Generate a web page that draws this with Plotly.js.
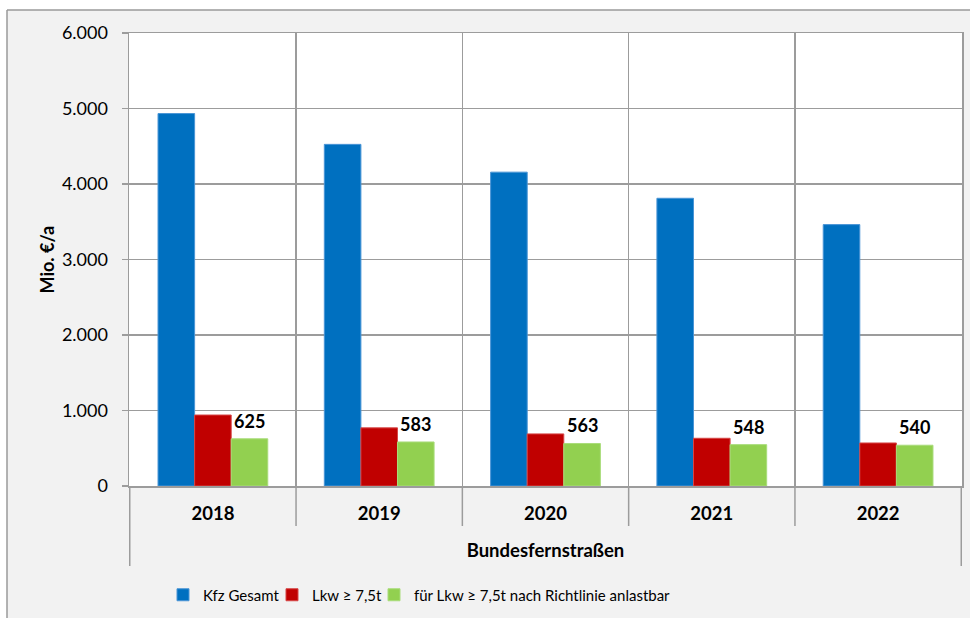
<!DOCTYPE html>
<html>
<head>
<meta charset="utf-8">
<script src="https://cdn.plot.ly/plotly-3.0.1.min.js"></script>
<style>html,body{margin:0;padding:0;background:#fff;}#chart{width:970px;height:618px;}</style>
</head>
<body>
<div id="chart"></div>
<script>
const categories = ['2018', '2019', '2020', '2021', '2022'];
const kfzGesamt = [4933, 4525, 4157, 3811, 3462];
const lkw75 = [940, 770, 690, 632, 570];
const anlastbar = [625, 583, 563, 548, 540];
const seriesNames = ['Kfz Gesamt', 'Lkw ≥ 7,5t', 'für Lkw ≥ 7,5t nach Richtlinie anlastbar'];
const yTicks = [0, 1000, 2000, 3000, 4000, 5000, 6000];
const yAxisTitle = 'Mio. €/a';
const xGroupTitle = 'Bundesfernstraßen';

const FONT = 'Lato, "Open Sans", sans-serif';
const W = 970, H = 618;
const M = {l: 129, r: 8, t: 33, b: 132, autoexpand: false};
const plotH = H - M.t - M.b;
const plotW = W - M.l - M.r;
const gridCol = '#9c9c9c';

const colors = ['#0070C0', '#C00000', '#92D050'];
const edge = ['#4a95d6', '#d64545', '#a9dc7a'];
const seriesVals = [kfzGesamt, lkw75, anlastbar];
const legendIds = ['legend', 'legend2', 'legend3'];
const legendSquareLeftPx = [178, 287, 389];

const traces = seriesVals.map((vals, i) => ({
  type: 'bar',
  name: seriesNames[i],
  x: categories,
  y: vals,
  legend: legendIds[i],
  marker: {color: colors[i], line: {color: edge[i], width: 1}},
  hoverinfo: 'skip'
}));

const bargap = 0.34;
const barW = (1 - bargap) / 3;

const annotations = anlastbar.map((v, i) => ({
  x: i + barW, xref: 'x', y: v, yref: 'y',
  text: String(v), showarrow: false,
  yanchor: 'bottom', yshift: 5,
  font: {family: FONT, size: 18, color: '#000', weight: 'bold'}
}));
annotations.push({
  xref: 'paper', yref: 'paper', x: (46 - M.l) / plotW, y: 0.5,
  text: yAxisTitle, textangle: -90, showarrow: false,
  xanchor: 'center', yanchor: 'middle',
  font: {family: FONT, size: 18, color: '#000', weight: 'bold'}
});

const px2y = p => -p / plotH;
const shapes = [];
// outside white strips and chart border
shapes.push({type: 'rect', xref: 'paper', yref: 'paper', x0: -M.l / plotW, x1: (-M.l + 7) / plotW, y0: -M.b / plotH - 0.1, y1: 1 + M.t / plotH + 0.1, fillcolor: '#fff', line: {width: 0}, layer: 'below'});
shapes.push({type: 'rect', xref: 'paper', yref: 'paper', x0: -M.l / plotW, x1: 1 + M.r / plotW + 0.1, y0: 1 + (M.t - 10) / plotH, y1: 1 + M.t / plotH + 0.1, fillcolor: '#fff', line: {width: 0}, layer: 'below'});
shapes.push({type: 'line', xref: 'paper', yref: 'paper', x0: (-M.l + 7) / plotW, x1: (-M.l + 7) / plotW, y0: 1 + (M.t - 10) / plotH, y1: -M.b / plotH - 0.1, line: {color: '#9a9a9a', width: 1.5}});
shapes.push({type: 'line', xref: 'paper', yref: 'paper', x0: (-M.l + 7) / plotW, x1: 1 + M.r / plotW + 0.1, y0: 1 + (M.t - 10) / plotH, y1: 1 + (M.t - 10) / plotH, line: {color: '#9a9a9a', width: 1.5}});
// category boundary ticks
for (let i = 0; i <= categories.length; i++) {
  const outer = (i === 0 || i === categories.length);
  shapes.push({type: 'line', xref: 'x', yref: 'paper', x0: i - 0.5, x1: i - 0.5, y0: 0, y1: px2y(outer ? 80 : 40), line: {color: gridCol, width: 1.5}});
}

const layout = {
  width: W, height: H,
  margin: M,
  paper_bgcolor: '#f2f2f2',
  plot_bgcolor: '#ffffff',
  separators: ',.',
  barmode: 'group',
  bargap: bargap,
  bargroupgap: 0,
  showlegend: true,
  xaxis: {
    type: 'category',
    tickson: 'boundaries',
    showgrid: true, gridcolor: gridCol, gridwidth: 1.5,
    showline: true, linecolor: gridCol, linewidth: 1.5, mirror: true,
    ticks: '',
    ticklabelstandoff: 10,
    tickfont: {family: FONT, size: 18.5, color: '#000', weight: 'bold'},
    title: {text: xGroupTitle, standoff: 21, font: {family: FONT, size: 18.5, color: '#000', weight: 'bold'}},
    automargin: false,
    fixedrange: true
  },
  yaxis: {
    range: [0, 6000],
    tickvals: yTicks,
    tickformat: ',d',
    showgrid: true, gridcolor: gridCol, gridwidth: 1.5,
    showline: true, linecolor: gridCol, linewidth: 1.5, mirror: true,
    zeroline: false,
    ticks: 'outside', ticklen: 6, tickcolor: gridCol, tickwidth: 1.5,
    ticklabelstandoff: 10,
    tickfont: {family: FONT, size: 18, color: '#000'},
    automargin: false,
    fixedrange: true
  },
  annotations: annotations,
  shapes: shapes
};

legendIds.forEach((id, i) => {
  layout[id] = {
    orientation: 'h',
    x: (legendSquareLeftPx[i] - 15 - M.l) / plotW, xanchor: 'left',
    y: px2y(109), yanchor: 'middle',
    font: {family: FONT, size: 15, color: '#000'},
    bgcolor: 'rgba(0,0,0,0)'
  };
});

Plotly.newPlot('chart', traces, layout, {displayModeBar: false, staticPlot: true});
</script>
</body>
</html>
